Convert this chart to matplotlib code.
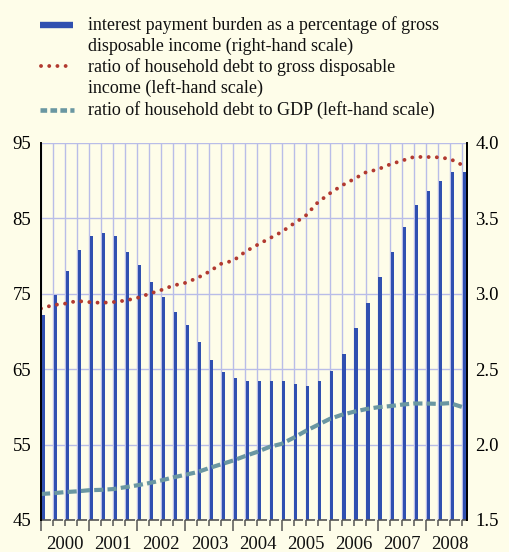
import matplotlib.pyplot as plt
import numpy as np
from matplotlib.lines import Line2D
from matplotlib.transforms import blended_transform_factory

plt.rcParams['font.family'] = ['Liberation Serif', 'DejaVu Serif']

years = ['2000', '2001', '2002', '2003', '2004', '2005', '2006', '2007', '2008']

# quarterly, 2000 Q1 .. 2008 Q4
interest_burden = [2.86, 2.99, 3.15, 3.29, 3.38, 3.40, 3.38, 3.28, 3.19, 3.08, 2.98, 2.88,
                   2.79, 2.68, 2.56, 2.48, 2.44, 2.42, 2.42, 2.42, 2.42, 2.40, 2.39, 2.42,
                   2.49, 2.60, 2.77, 2.94, 3.11, 3.28, 3.44, 3.59, 3.68, 3.75, 3.81, 3.81]
debt_to_income = [73.05, 73.5, 73.7, 74.05, 73.9, 73.8, 73.9, 74.1, 74.45, 75.0, 75.5, 76.1,
                  76.45, 77.1, 77.95, 79.0, 79.4, 80.6, 81.5, 82.35, 83.2, 84.3, 85.35, 87.1,
                  88.3, 89.35, 90.2, 91.1, 91.5, 92.15, 92.65, 93.15, 93.15, 93.1, 92.9, 92.1]
debt_to_gdp = [48.45, 48.55, 48.7, 48.8, 48.95, 49.0, 49.1, 49.35, 49.6, 49.9, 50.25, 50.65,
               51.0, 51.35, 51.9, 52.4, 52.9, 53.5, 54.05, 54.7, 55.1, 55.9, 56.8, 57.6,
               58.4, 58.95, 59.35, 59.7, 59.95, 60.1, 60.3, 60.45, 60.45, 60.4, 60.5, 60.0]

labels = ['interest payment burden as a percentage of gross',
          'disposable income (right-hand scale)',
          'ratio of household debt to gross disposable',
          'income (left-hand scale)',
          'ratio of household debt to GDP (left-hand scale)']

bg = '#fefde9'
blue = '#3050b0'
red = '#b23a30'
teal = '#6a97a2'
grid_col = '#b9bde8'
axis_col = '#555555'

W, H = 509, 552
fig = plt.figure(figsize=(W / 100, H / 100), dpi=100, facecolor=bg)
ax = fig.add_axes([41 / W, 1 - 520 / H, 426 / W, 377 / H], facecolor=bg)
ax2 = ax.twinx()

q = np.arange(len(interest_burden))
xmax = 35.42

# bars on the right-hand scale
ax.bar(q + 0.06, interest_burden, width=0.26, align='edge', color=blue, zorder=2)
ax.set_ylim(1.5, 4.0)
ax.set_xlim(0, xmax)
ax.set_yticks(np.arange(1.5, 4.01, 0.5))
ax.yaxis.tick_right()
ax.yaxis.set_label_position('right')
ax.tick_params(axis='y', length=0, pad=6, labelsize=13.5)
ax.yaxis.set_major_formatter(plt.FormatStrFormatter('%.1f'))
ax.set_axisbelow(True)
ax.grid(axis='y', color=grid_col, lw=1.0)
ax.set_xticks(np.arange(0, 36, 4))
ax.set_xticks(q, minor=True)
ax.grid(axis='x', which='both', color=grid_col, lw=1.0)
ax.tick_params(axis='x', which='major', length=8, width=1.1, color=axis_col, labelbottom=False)
ax.tick_params(axis='x', which='minor', length=4.5, width=1.1, color=axis_col)

# lines on the left-hand scale
ax2.plot(q, debt_to_income, color=red, lw=2.8, linestyle=(0, (0.01, 2.1)),
         dash_capstyle='round')
ax2.plot(q, debt_to_gdp, color=teal, lw=3.0, linestyle=(0, (2.2, 1.0)),
         dash_capstyle='butt')
ax2.set_ylim(45, 95)
ax2.set_yticks(np.arange(45, 96, 10))
ax2.yaxis.tick_left()
ax2.yaxis.set_label_position('left')
ax2.tick_params(axis='y', length=0, pad=7, labelsize=13.5)

for a in (ax, ax2):
    a.spines['top'].set_visible(False)
    a.spines['bottom'].set_visible(False)
    a.spines['left'].set_color('black')
    a.spines['right'].set_color('black')
    a.spines['left'].set_linewidth(1.3)
    a.spines['right'].set_linewidth(1.3)

# segmented baseline and year labels
trans = blended_transform_factory(ax.transData, ax.transAxes)
for i in q:
    ax.plot([i, min(i + 0.8, xmax)], [0, 0], transform=trans, clip_on=False,
            color=axis_col, lw=1.2, solid_capstyle='butt')
for k, yr in enumerate(years):
    ax.text(4 * k + 2, -0.066, yr, transform=trans, ha='center', va='center',
            fontsize=13.5, color='#111111')

# legend drawn in figure pixels
def fx(px):
    return px / W

def fy(py):
    return 1 - py / H

fig.add_artist(Line2D([fx(40), fx(73)], [fy(25.3), fy(25.3)], color=blue, lw=4.6,
                      solid_capstyle='butt'))
fig.add_artist(Line2D([fx(41), fx(73)], [fy(66), fy(66)], color=red, lw=2.8,
                      linestyle=(0, (0.01, 2.1)), dash_capstyle='round'))
fig.add_artist(Line2D([fx(40), fx(73.5)], [fy(109.7), fy(109.7)], color=teal, lw=3.3,
                      linestyle=(0, (1.45, 0.72)), dash_capstyle='butt'))
for j, txt in enumerate(labels):
    fig.text(fx(88), fy(29.8 + 21.2 * j), txt, ha='left', va='baseline',
             fontsize=12.95, color='#111111')

fig.savefig('out.png', dpi=100, facecolor=bg)
